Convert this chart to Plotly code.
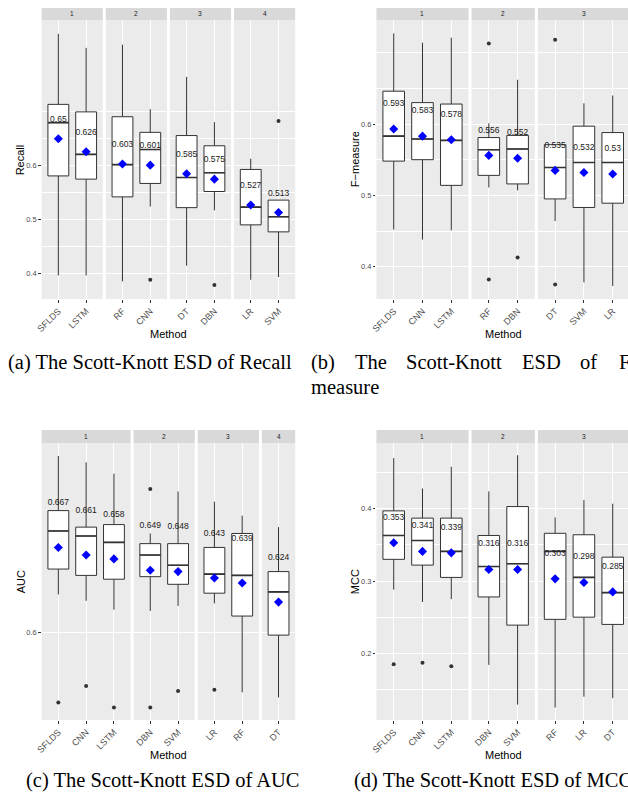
import plotly.graph_objects as go

W, H = 628, 794

# ---------------- data ----------------
# (a) Recall
recall_groups = [["SFLDS", "LSTM"], ["RF", "CNN"], ["DT", "DBN"], ["LR", "SVM"]]
recall_methods = ["SFLDS", "LSTM", "RF", "CNN", "DT", "DBN", "LR", "SVM"]
recall_lower = [0.396, 0.396, 0.385, 0.524, 0.414, 0.517, 0.388, 0.393]
recall_q1 = [0.581, 0.575, 0.542, 0.567, 0.522, 0.552, 0.490, 0.477]
recall_median = [0.680, 0.621, 0.602, 0.630, 0.578, 0.587, 0.523, 0.505]
recall_q3 = [0.714, 0.700, 0.691, 0.662, 0.656, 0.637, 0.593, 0.536]
recall_upper = [0.845, 0.819, 0.825, 0.705, 0.765, 0.681, 0.613, 0.536]
recall_mean = [0.65, 0.626, 0.603, 0.601, 0.585, 0.575, 0.527, 0.513]
recall_out_method = ["CNN", "DBN", "SVM"]
recall_out_value = [0.388, 0.378, 0.683]

# (b) F-measure
fm_groups = [["SFLDS", "CNN", "LSTM"], ["RF", "DBN"], ["DT", "SVM", "LR"]]
fm_methods = ["SFLDS", "CNN", "LSTM", "RF", "DBN", "DT", "SVM", "LR"]
fm_lower = [0.452, 0.438, 0.451, 0.511, 0.507, 0.464, 0.378, 0.373]
fm_q1 = [0.548, 0.550, 0.514, 0.528, 0.516, 0.495, 0.483, 0.489]
fm_median = [0.583, 0.579, 0.577, 0.564, 0.565, 0.539, 0.546, 0.546]
fm_q3 = [0.646, 0.630, 0.628, 0.581, 0.584, 0.571, 0.597, 0.588]
fm_upper = [0.727, 0.714, 0.721, 0.601, 0.662, 0.571, 0.629, 0.640]
fm_mean = [0.593, 0.583, 0.578, 0.556, 0.552, 0.535, 0.532, 0.53]
fm_out_method = ["RF", "RF", "DBN", "DT", "DT"]
fm_out_value = [0.713, 0.382, 0.413, 0.718, 0.375]

# (c) AUC
auc_groups = [["SFLDS", "CNN", "LSTM"], ["DBN", "SVM"], ["LR", "RF"], ["DT"]]
auc_methods = ["SFLDS", "CNN", "LSTM", "DBN", "SVM", "LR", "RF", "DT"]
auc_lower = [0.630, 0.625, 0.618, 0.617, 0.621, 0.623, 0.553, 0.549]
auc_q1 = [0.650, 0.645, 0.642, 0.644, 0.638, 0.631, 0.613, 0.598]
auc_median = [0.680, 0.676, 0.671, 0.661, 0.653, 0.646, 0.645, 0.632]
auc_q3 = [0.696, 0.683, 0.685, 0.670, 0.670, 0.667, 0.678, 0.648]
auc_upper = [0.739, 0.734, 0.725, 0.678, 0.711, 0.703, 0.692, 0.683]
auc_mean = [0.667, 0.661, 0.658, 0.649, 0.648, 0.643, 0.639, 0.624]
auc_out_method = ["SFLDS", "CNN", "LSTM", "DBN", "DBN", "SVM", "LR"]
auc_out_value = [0.545, 0.558, 0.541, 0.713, 0.541, 0.554, 0.555]

# (d) MCC
mcc_groups = [["SFLDS", "CNN", "LSTM"], ["DBN", "SVM"], ["RF", "LR", "DT"]]
mcc_methods = ["SFLDS", "CNN", "LSTM", "DBN", "SVM", "RF", "LR", "DT"]
mcc_lower = [0.288, 0.271, 0.275, 0.184, 0.129, 0.125, 0.140, 0.138]
mcc_q1 = [0.330, 0.322, 0.305, 0.278, 0.239, 0.247, 0.250, 0.240]
mcc_median = [0.363, 0.356, 0.341, 0.320, 0.324, 0.341, 0.305, 0.284]
mcc_q3 = [0.397, 0.387, 0.387, 0.363, 0.403, 0.366, 0.364, 0.333]
mcc_upper = [0.470, 0.428, 0.458, 0.424, 0.474, 0.388, 0.412, 0.407]
mcc_mean = [0.353, 0.341, 0.339, 0.316, 0.316, 0.303, 0.298, 0.285]
mcc_out_method = ["SFLDS", "CNN", "LSTM"]
mcc_out_value = [0.185, 0.187, 0.182]

# ---------------- layout helpers ----------------
def px(x):
    return x / W


def py(y):
    return 1 - y / H


SANS = "Liberation Sans, Arial, sans-serif"
SERIF = "Liberation Serif, Times New Roman, serif"
LABEL_OFFSET = 0.035

panels = [
    dict(groups=recall_groups, methods=recall_methods, lower=recall_lower, q1=recall_q1,
         median=recall_median, q3=recall_q3, upper=recall_upper, mean=recall_mean,
         out_m=recall_out_method, out_v=recall_out_value,
         left=36, top=20, bottom=299, strip_top=8, yrange=[0.3522, 0.8708],
         ticks=[0.4, 0.5, 0.6], minor=[0.45, 0.55, 0.65, 0.7],
         ytitle="Recall", ytitle_x=14),
    dict(groups=fm_groups, methods=fm_methods, lower=fm_lower, q1=fm_q1,
         median=fm_median, q3=fm_q3, upper=fm_upper, mean=fm_mean,
         out_m=fm_out_method, out_v=fm_out_value,
         left=374, top=20, bottom=299, strip_top=8, yrange=[0.3547, 0.7458],
         ticks=[0.4, 0.5, 0.6], minor=[0.45, 0.55, 0.65, 0.7],
         ytitle="F\u2212measure", ytitle_x=352),
    dict(groups=auc_groups, methods=auc_methods, lower=auc_lower, q1=auc_q1,
         median=auc_median, q3=auc_q3, upper=auc_upper, mean=auc_mean,
         out_m=auc_out_method, out_v=auc_out_value,
         left=36, top=443, bottom=720, strip_top=430, yrange=[0.5312, 0.7492],
         ticks=[0.6], minor=[],
         ytitle="AUC", ytitle_x=15),
    dict(groups=mcc_groups, methods=mcc_methods, lower=mcc_lower, q1=mcc_q1,
         median=mcc_median, q3=mcc_q3, upper=mcc_upper, mean=mcc_mean,
         out_m=mcc_out_method, out_v=mcc_out_value,
         left=374, top=443, bottom=720, strip_top=430, yrange=[0.1078, 0.4909],
         ticks=[0.2, 0.3, 0.4], minor=[0.15, 0.25, 0.35, 0.45],
         ytitle="MCC", ytitle_x=352),
]

fig = go.Figure()
layout = dict(
    width=W, height=H, autosize=False,
    margin=dict(l=0, r=0, t=0, b=0),
    paper_bgcolor="white", plot_bgcolor="#EBEBEB",
    showlegend=False,
)
shapes = []
annotations = []

k = 0
PANEL_W = 256
GAP = 3
for p in panels:
    groups = p["groups"]
    units = sum(len(g) + 0.2 for g in groups)
    unit_px = (PANEL_W - GAP * (len(groups) - 1)) / units
    x_cursor = p["left"]
    for gi, g in enumerate(groups):
        k += 1
        xn = "x" if k == 1 else f"x{k}"
        yn = "y" if k == 1 else f"y{k}"
        xk = "xaxis" if k == 1 else f"xaxis{k}"
        yk = "yaxis" if k == 1 else f"yaxis{k}"
        n = len(g)
        x0 = x_cursor
        x1 = x0 + (n + 0.2) * unit_px
        x_cursor = x1 + GAP
        rng_hi = n - 0.4
        x1c = x1
        if x1 > W:
            rng_hi -= (x1 - W) / unit_px
            x1c = W
        layout[xk] = dict(
            domain=[px(x0), px(x1c)], anchor=yn, type="category",
            categoryorder="array", categoryarray=g, range=[-0.6, rng_hi],
            showgrid=True, gridcolor="white", gridwidth=1.1,
            zeroline=False, showline=False,
            ticks="outside", ticklen=2.5, tickwidth=0.8, tickcolor="#333333",
            tickangle=-45, tickfont=dict(family=SANS, size=9, color="#4D4D4D"),
            fixedrange=True,
        )
        first = gi == 0
        layout[yk] = dict(
            domain=[py(p["bottom"]), py(p["top"])], anchor=xn,
            range=p["yrange"], tickmode="array", tickvals=p["ticks"],
            ticktext=[f"{t:g}" for t in p["ticks"]],
            showticklabels=first, ticks="outside" if first else "",
            ticklen=2.5, tickwidth=0.8, tickcolor="#333333",
            tickfont=dict(family=SANS, size=7.5, color="#4D4D4D"),
            showgrid=True, gridcolor="white", gridwidth=1.1,
            minor=dict(tickmode="array", tickvals=p["minor"], showgrid=True,
                       gridcolor="white", gridwidth=0.55, ticks=""),
            zeroline=False, showline=False, fixedrange=True,
        )
        # data for this facet
        idx = [p["methods"].index(m) for m in g]
        med = [p["median"][i] for i in idx]
        fig.add_trace(go.Box(
            x=g,
            q1=[p["q1"][i] for i in idx],
            median=med,
            q3=[p["q3"][i] for i in idx],
            lowerfence=[p["lower"][i] for i in idx],
            upperfence=[p["upper"][i] for i in idx],
            xaxis=xn, yaxis=yn, width=0.75, whiskerwidth=0,
            fillcolor="white", line=dict(color="#333333", width=1.0),
            boxpoints=False, hoverinfo="skip", showlegend=False,
        ))
        # thicker median bar (ggplot fatten)
        fig.add_trace(go.Box(
            x=g, q1=med, median=med, q3=med, lowerfence=med, upperfence=med,
            xaxis=xn, yaxis=yn, width=0.75, whiskerwidth=0,
            fillcolor="rgba(0,0,0,0)", line=dict(color="#333333", width=1.6),
            boxpoints=False, hoverinfo="skip", showlegend=False,
        ))
        om = [m for m in p["out_m"] if m in g]
        ov = [v for m, v in zip(p["out_m"], p["out_v"]) if m in g]
        if om:
            fig.add_trace(go.Scatter(
                x=om, y=ov, xaxis=xn, yaxis=yn, mode="markers",
                marker=dict(color="#333333", size=4), hoverinfo="skip",
            ))
        means = [p["mean"][i] for i in idx]
        fig.add_trace(go.Scatter(
            x=g, y=means, xaxis=xn, yaxis=yn, mode="markers",
            marker=dict(color="blue", size=7, symbol="diamond"), hoverinfo="skip",
        ))
        fig.add_trace(go.Scatter(
            x=g, y=[m + LABEL_OFFSET for m in means], xaxis=xn, yaxis=yn,
            mode="text", text=[f"{m:g}" for m in means],
            textposition="middle center",
            textfont=dict(family=SANS, size=8.5, color="#1A1A1A"),
            hoverinfo="skip", cliponaxis=False,
        ))
        # facet strip
        shapes.append(dict(type="rect", xref="paper", yref="paper",
                           x0=px(x0), x1=px(x1c), y0=py(p["top"]), y1=py(p["strip_top"]),
                           fillcolor="#D9D9D9", line=dict(width=0), layer="below"))
        annotations.append(dict(xref="paper", yref="paper", x=px((x0 + x1) / 2),
                                y=py((p["top"] + p["strip_top"]) / 2), text=str(gi + 1),
                                showarrow=False, xanchor="center", yanchor="middle",
                                font=dict(family=SANS, size=6.5, color="#1A1A1A")))
    # axis titles
    annotations.append(dict(xref="paper", yref="paper", x=px(p["ytitle_x"]),
                            y=py((p["top"] + p["bottom"]) / 2), text=p["ytitle"],
                            textangle=-90, showarrow=False, xanchor="center",
                            yanchor="middle", font=dict(family=SANS, size=11, color="black")))
    annotations.append(dict(xref="paper", yref="paper",
                            x=px(p["left"] + PANEL_W / 2), y=py(p["bottom"] + 35),
                            text="Method", showarrow=False, xanchor="center",
                            yanchor="middle", font=dict(family=SANS, size=11, color="black")))

# captions
cap_font = dict(family=SERIF, size=20.5, color="black")
captions = [
    ("(a) The Scott-Knott ESD of Recall", 0, 362),
    ("(b)", 306, 362), ("The", 350, 362), ("Scott-Knott", 402, 362),
    ("ESD", 519, 362), ("of", 578, 362), ("F-", 617, 362),
    ("measure", 306, 387),
    ("(c) The Scott-Knott ESD of AUC", 18, 780),
    ("(d) The Scott-Knott ESD of MCC", 349, 780),
]
for txt, x, y in captions:
    annotations.append(dict(xref="paper", yref="paper", x=px(x), y=py(y), text=txt,
                            showarrow=False, xanchor="left", yanchor="middle",
                            font=cap_font))

layout["shapes"] = shapes
layout["annotations"] = annotations
fig.update_layout(**layout)
fig.write_html(
    "out.html",
    config={"displayModeBar": False},
    post_script="document.body.style.margin='0px';document.body.style.overflow='hidden';",
)
